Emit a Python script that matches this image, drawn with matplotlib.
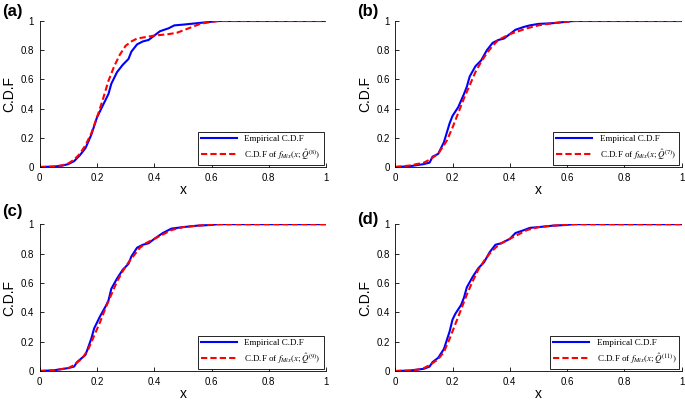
import matplotlib
matplotlib.use("Agg")
import matplotlib.pyplot as plt

# panel (a)
a_emp_x = [0, 0.05, 0.08, 0.1, 0.12, 0.14, 0.16, 0.18, 0.19, 0.2, 0.22, 0.24, 0.25, 0.27, 0.29, 0.31, 0.32, 0.34, 0.36, 0.38, 0.4, 0.42, 0.45, 0.47, 0.5, 0.55, 0.6, 0.62, 1.0]
a_emp_y = [0, 0.003, 0.01, 0.02, 0.04, 0.08, 0.13, 0.22, 0.28, 0.34, 0.42, 0.50, 0.57, 0.65, 0.70, 0.74, 0.79, 0.84, 0.86, 0.87, 0.90, 0.93, 0.95, 0.97, 0.975, 0.985, 0.995, 1.0, 1.0]
a_fit_x = [0, 0.05, 0.08, 0.1, 0.12, 0.14, 0.16, 0.18, 0.2, 0.22, 0.24, 0.26, 0.28, 0.3, 0.32, 0.34, 0.37, 0.4, 0.45, 0.48, 0.52, 0.56, 0.6, 0.63, 1.0]
a_fit_y = [0, 0.003, 0.012, 0.025, 0.05, 0.09, 0.15, 0.23, 0.34, 0.46, 0.59, 0.69, 0.77, 0.83, 0.86, 0.88, 0.89, 0.90, 0.91, 0.92, 0.95, 0.98, 0.995, 1.0, 1.0]

# panel (b)
b_emp_x = [0, 0.05, 0.1, 0.12, 0.13, 0.15, 0.17, 0.19, 0.2, 0.22, 0.24, 0.25, 0.26, 0.28, 0.3, 0.32, 0.34, 0.36, 0.38, 0.4, 0.42, 0.45, 0.47, 0.5, 0.55, 0.6, 0.62, 1.0]
b_emp_y = [0, 0.005, 0.02, 0.03, 0.07, 0.09, 0.17, 0.30, 0.35, 0.41, 0.50, 0.55, 0.62, 0.69, 0.73, 0.80, 0.85, 0.87, 0.88, 0.91, 0.94, 0.96, 0.97, 0.98, 0.985, 0.995, 1.0, 1.0]
b_fit_x = [0, 0.05, 0.1, 0.12, 0.15, 0.18, 0.2, 0.22, 0.24, 0.26, 0.28, 0.3, 0.32, 0.34, 0.36, 0.38, 0.4, 0.43, 0.46, 0.5, 0.55, 0.6, 0.63, 1.0]
b_fit_y = [0, 0.01, 0.03, 0.05, 0.09, 0.18, 0.27, 0.37, 0.47, 0.56, 0.65, 0.72, 0.78, 0.83, 0.87, 0.89, 0.91, 0.93, 0.95, 0.97, 0.985, 0.995, 1.0, 1.0]

# panel (c)
c_emp_x = [0, 0.05, 0.1, 0.12, 0.13, 0.16, 0.18, 0.19, 0.21, 0.23, 0.24, 0.25, 0.27, 0.29, 0.31, 0.32, 0.34, 0.36, 0.38, 0.4, 0.43, 0.46, 0.5, 0.55, 0.6, 0.62, 1.0]
c_emp_y = [0, 0.005, 0.02, 0.03, 0.06, 0.11, 0.22, 0.29, 0.37, 0.44, 0.48, 0.56, 0.63, 0.69, 0.73, 0.78, 0.84, 0.86, 0.87, 0.90, 0.94, 0.97, 0.98, 0.99, 0.995, 1.0, 1.0]
c_fit_x = [0, 0.05, 0.1, 0.12, 0.15, 0.17, 0.19, 0.21, 0.23, 0.25, 0.27, 0.29, 0.31, 0.33, 0.35, 0.37, 0.4, 0.43, 0.46, 0.5, 0.55, 0.6, 0.63, 1.0]
c_fit_y = [0, 0.005, 0.02, 0.04, 0.09, 0.15, 0.24, 0.33, 0.43, 0.52, 0.61, 0.68, 0.74, 0.79, 0.84, 0.87, 0.90, 0.93, 0.96, 0.98, 0.99, 0.997, 1.0, 1.0]

# panel (d)
d_emp_x = [0, 0.05, 0.08, 0.1, 0.12, 0.13, 0.15, 0.17, 0.19, 0.2, 0.21, 0.23, 0.24, 0.25, 0.27, 0.29, 0.31, 0.33, 0.35, 0.37, 0.4, 0.42, 0.45, 0.47, 0.5, 0.55, 0.6, 0.62, 1.0]
d_emp_y = [0, 0.003, 0.01, 0.015, 0.03, 0.06, 0.09, 0.15, 0.27, 0.35, 0.39, 0.45, 0.50, 0.57, 0.64, 0.70, 0.74, 0.81, 0.86, 0.87, 0.90, 0.94, 0.96, 0.975, 0.98, 0.99, 0.995, 1.0, 1.0]
d_fit_x = [0, 0.05, 0.08, 0.1, 0.12, 0.15, 0.17, 0.19, 0.21, 0.23, 0.25, 0.27, 0.29, 0.31, 0.33, 0.35, 0.37, 0.4, 0.43, 0.46, 0.5, 0.55, 0.6, 0.63, 1.0]
d_fit_y = [0, 0.003, 0.01, 0.02, 0.04, 0.08, 0.13, 0.22, 0.32, 0.42, 0.52, 0.61, 0.69, 0.75, 0.80, 0.84, 0.87, 0.90, 0.93, 0.96, 0.98, 0.99, 0.997, 1.0, 1.0]

panel_tags = ["(a)", "(b)", "(c)", "(d)"]
iter_nums = ["8", "7", "9", "11"]
xticks = [0, 0.2, 0.4, 0.6, 0.8, 1]
yticks = [0, 0.2, 0.4, 0.6, 0.8, 1]

panels = [
    (a_emp_x, a_emp_y, a_fit_x, a_fit_y),
    (b_emp_x, b_emp_y, b_fit_x, b_fit_y),
    (c_emp_x, c_emp_y, c_fit_x, c_fit_y),
    (d_emp_x, d_emp_y, d_fit_x, d_fit_y),
]

# axes boxes in figure fraction [left, bottom, width, height]
boxes = [
    [0.058, 0.5825, 0.418, 0.365],
    [0.577, 0.5825, 0.418, 0.365],
    [0.058, 0.0725, 0.418, 0.367],
    [0.577, 0.0725, 0.418, 0.367],
]
tag_pos = [(0.003, 0.99), (0.521, 0.99), (0.003, 0.49), (0.521, 0.47)]

plt.rcParams['font.family'] = ['Liberation Sans', 'DejaVu Sans']
plt.rcParams['mathtext.fontset'] = 'stix'

fig = plt.figure(figsize=(6.85, 4.0), dpi=100)

for i in range(4):
    ex, ey, fx, fy = panels[i]
    ax = fig.add_axes(boxes[i])
    ax.plot(ex, ey, color='#0000ff', lw=1.5, label='Empirical C.D.F')
    ax.plot(fx, fy, color='#ff0000', lw=1.5, ls='--', dashes=(3, 1.5),
            label=r'C.D.F of $f_{Mix}(x;\hat{Q}^{(' + iter_nums[i] + r')})$')
    ax.set_xlim(0, 1)
    ax.set_ylim(0, 1)
    ax.set_xticks(xticks)
    ax.set_yticks(yticks)
    ax.set_xticklabels([f"{t:g}" for t in xticks])
    ax.set_yticklabels([f"{t:g}" for t in yticks])
    ax.tick_params(direction='in', length=3, width=0.6, labelsize=7, pad=4)
    for s in ['top', 'right']:
        ax.spines[s].set_visible(False)
    for s in ['left', 'bottom']:
        ax.spines[s].set_linewidth(0.6)
    ax.set_xlabel('x', fontsize=10, labelpad=0)
    ax.set_ylabel('C.D.F', fontsize=10, labelpad=3)
    leg = ax.legend(loc='lower right', fancybox=False, framealpha=1,
                    edgecolor='black', borderaxespad=0.25, handlelength=4,
                    borderpad=0.35, labelspacing=0.4,
                    prop={'family': 'Liberation Serif', 'size': 6.5})
    leg.get_frame().set_linewidth(0.6)
    fig.text(tag_pos[i][0], tag_pos[i][1], panel_tags[i], fontsize=12,
             fontweight='bold', va='top', ha='left')

fig.savefig('out.png', dpi=100)
